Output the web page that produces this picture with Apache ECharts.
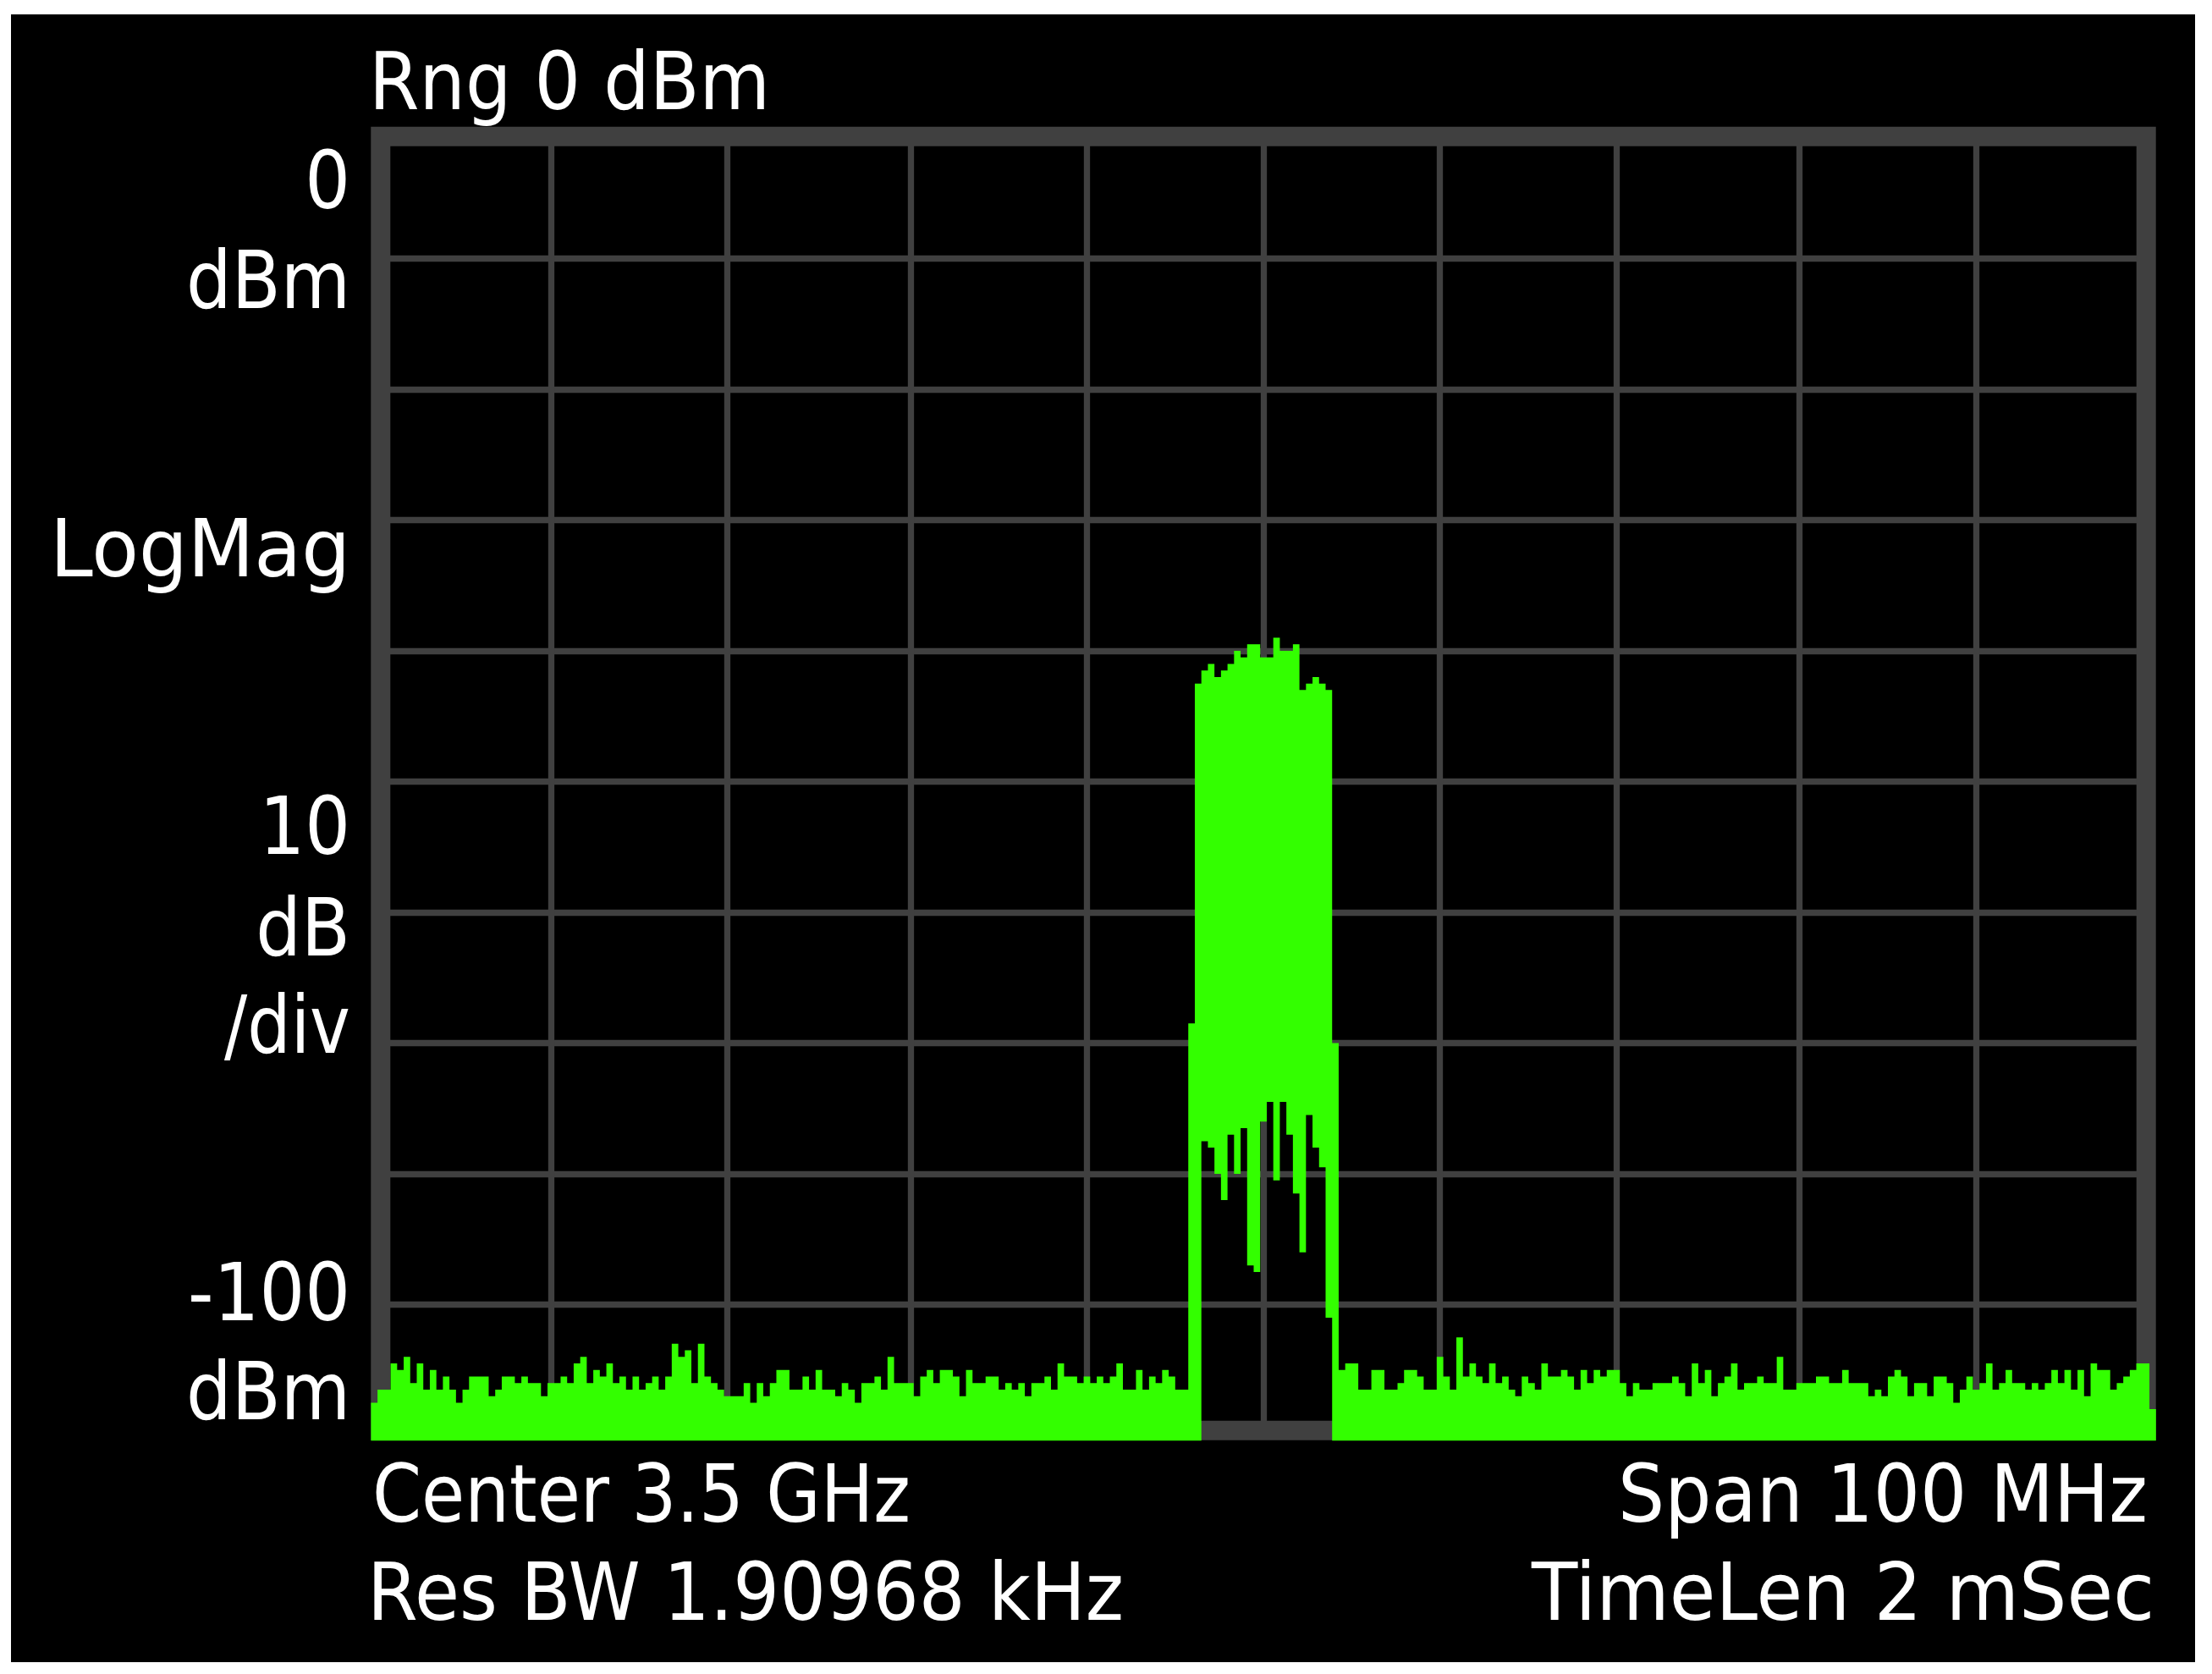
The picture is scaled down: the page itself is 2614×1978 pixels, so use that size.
<!DOCTYPE html>
<html>
<head>
<meta charset="utf-8">
<title>Spectrum 3.5 GHz</title>
<script src="https://cdn.jsdelivr.net/npm/echarts@6/dist/echarts.min.js"></script>
<style>
  html, body { margin: 0; padding: 0; background: #fff; }
  #main { width: 2614px; height: 1978px; }
</style>
</head>
<body>
<div id="main"></div>
<script>
// peak trace in dBm, one value per display column, left of the carrier
const noiseLeft = [
  -97.5, -96.5, -96.5, -94.5, -95, -94, -96, -94.5, -96.5, -95,
  -96.5, -95.5, -96.5, -97.5, -96.5, -95.5, -95.5, -95.5, -97, -96.5,
  -95.5, -95.5, -96, -95.5, -96, -96, -97, -96, -96, -95.5,
  -96, -94.5, -94, -96, -95, -95.5, -94.5, -96, -95.5, -96.5,
  -95.5, -96.5,
  -96, -95.5, -96.5, -95.5, -93, -94, -93.5, -96, -93, -95.5,
  -96, -96.5, -97, -97, -97, -96, -97.5, -96, -97, -96,
  -95, -95, -96.5, -96.5, -95.5, -96.5, -95, -96.5, -96.5, -97,
  -96, -96.5, -97.5, -96, -96, -95.5, -96.5, -94, -96, -96,
  -96, -97, -95.5,
  -95, -96, -95, -95, -95.5, -97, -95, -96, -96, -95.5,
  -95.5, -96.5, -96, -96.5, -96, -97, -96, -96, -95.5, -96.5,
  -94.5, -95.5, -95.5, -96, -95.5, -96, -95.5, -96, -95.5, -94.5,
  -96.5, -96.5, -95, -96.5, -95.5, -96, -95, -95.5, -96.5, -96.5
];

// carrier columns: top of the band and bottom of the band (null = down to the floor)
const signalTop = [
  -68.5, -42.5,
  -41.5, -41, -42, -41.5, -41, -40, -40.5, -39.5, -39.5, -40.5,
  -40.5, -39, -40, -40, -39.5, -43, -42.5, -42, -42.5, -43,
  -70
];
const signalBottom = [
  null, null,
  -77.5, -78, -80, -82, -77, -80, -76.5, -87, -87.5, -76,
  -74.5, -80.5, -74.5, -77, -81.5, -86, -75.5, -78, -79.5, -91,
  null
];

// peak trace right of the carrier
const noiseRight = [
  -95, -94.5, -94.5, -96.5, -96.5, -95, -95, -96.5, -96.5, -96,
  -95, -95, -95.5, -96.5, -96.5, -94, -95.5, -96.5, -92.5, -95.5,
  -94.5, -95.5, -96, -94.5, -96, -95.5, -96.5, -97, -95.5, -96,
  -96.5, -94.5, -95.5, -95.5, -95, -95.5, -96.5, -95, -96, -95,
  -95.5,
  -95, -95, -96, -97, -96, -96.5, -96.5, -96, -96, -96,
  -95.5, -96, -97, -94.5, -96, -95, -97, -96, -95.5, -94.5,
  -96.5, -96, -96, -95.5, -96, -96, -94, -96.5, -96.5, -96,
  -96, -96, -95.5, -95.5, -96, -96, -95, -96, -96, -96,
  -97, -96.5,
  -97, -95.5, -95, -95.5, -97, -96, -96, -97, -95.5, -95.5,
  -96, -97.5, -96.5, -95.5, -96.5, -96, -94.5, -96.5, -96, -95,
  -96, -96, -96.5, -96, -96.5, -96, -95, -96, -95, -96.5,
  -95, -97, -94.5, -95, -95, -96.5, -96, -95.5, -95, -94.5,
  -94.5, -98
];

// bottom edge of the screen, the fill reaches down to here
const floorLevel = -100.4;

// graticule columns (the instrument rounds the divisions to whole pixels)
const gridCols = [26, 53, 81, 108, 135, 162, 189, 217, 244];

// screen annotations
const rangeText = 'Rng 0 dBm';
const sideText = ['0', 'dBm', 'LogMag', '10', 'dB', '/div', '-100', 'dBm'];
const footLeft = ['Center 3.5 GHz', 'Res BW 1.90968 kHz'];
const footRight = ['Span 100 MHz', 'TimeLen 2 mSec'];

const GREEN = '#33ff00';
const GRID = '#404040';
const FONT = '95px "DejaVu Sans"';

// build bins: [column centre, top, bottom]
const tops = noiseLeft.concat(signalTop, noiseRight);
const bottoms = noiseLeft.map(() => null).concat(signalBottom, noiseRight.map(() => null));
const bins = tops.map((t, i) => [i - 1, t, bottoms[i] == null ? floorLevel : bottoms[i]]);

// text width fitting, the instrument font is narrower than anything installed
const measure = document.createElement('canvas').getContext('2d');
measure.font = FONT;
function fit(text, inkWidth) {
  return (inkWidth + 8) / measure.measureText(text).width;
}

function label(text, x, y, align, scaleX) {
  return {
    type: 'text', x: x, y: y, scaleX: scaleX, z: 3,
    style: { text: text, fill: '#fff', font: FONT, align: align, verticalAlign: 'middle' }
  };
}

const sideY = [221, 339, 656, 984, 1104, 1219, 1535, 1652];
const sideScale = [0.89, 0.89, fit(sideText[2], 347), 0.89, 0.89, fit(sideText[5], 141), 0.89, 0.89];
const texts = [
  label(rangeText, 436, 104, 'left', fit(rangeText, 466)),
  label(footLeft[0], 440, 1773, 'left', fit(footLeft[0], 628)),
  label(footLeft[1], 434, 1889, 'left', fit(footLeft[1], 886)),
  label(footRight[0], 2538, 1773, 'right', fit(footRight[0], 618)),
  label(footRight[1], 2546, 1889, 'right', fit(footRight[1], 728))
];
sideText.forEach((t, i) => {
  texts.push(label(t, 414, sideY[i], 'right', sideScale[i]));
});

const chart = echarts.init(document.getElementById('main'));

const option = {
  animation: false,
  backgroundColor: '#fff',
  grid: {
    left: 450,
    top: 151,
    width: 2086.2,
    height: 1545,
    outerBoundsMode: 'none',
    containLabel: false
  },
  xAxis: {
    type: 'value',
    min: 0,
    max: 270,
    interval: 27,
    axisLine: { show: false },
    axisTick: { show: false, customValues: gridCols },
    axisLabel: { show: false },
    splitLine: {
      show: true,
      showMinLine: true,
      showMaxLine: true,
      lineStyle: { color: GRID, width: 7.3 }
    }
  },
  yAxis: {
    type: 'value',
    min: -100,
    max: 0,
    interval: 10,
    axisLine: { show: false },
    axisTick: { show: false },
    axisLabel: { show: false },
    splitLine: {
      show: true,
      showMinLine: false,
      showMaxLine: false,
      lineStyle: { color: GRID, width: 7.3 }
    }
  },
  graphic: {
    elements: [
      {
        type: 'rect', z: -10,
        shape: { x: 13, y: 17, width: 2581, height: 1947 },
        style: { fill: '#000' }
      },
      {
        // instrument frame round the graticule
        type: 'rect', z: 1,
        shape: { x: 449.8, y: 161.2, width: 2086.4, height: 1529 },
        style: { fill: null, stroke: GRID, lineWidth: 23 }
      }
    ].concat(texts)
  },
  series: [
    {
      name: 'trace',
      type: 'custom',
      clip: false,
      z: 5,
      data: bins,
      renderItem: function (params, api) {
        // the min/max band is drawn as one outline
        if (params.dataIndex !== 0) return;
        const pts = [];
        bins.forEach(b => {
          pts.push(api.coord([b[0] - 0.5, b[1]]));
          pts.push(api.coord([b[0] + 0.5, b[1]]));
        });
        for (let k = bins.length - 1; k >= 0; k--) {
          pts.push(api.coord([bins[k][0] + 0.5, bins[k][2]]));
          pts.push(api.coord([bins[k][0] - 0.5, bins[k][2]]));
        }
        return {
          type: 'polygon',
          shape: { points: pts },
          style: { fill: GREEN }
        };
      }
    }
  ]
};

chart.setOption(option);
</script>
</body>
</html>
